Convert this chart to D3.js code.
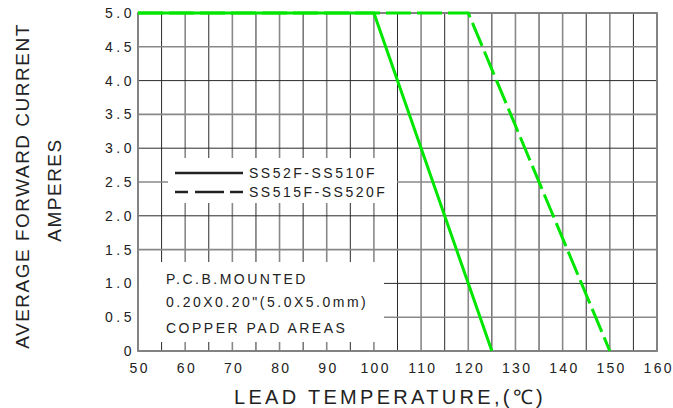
<!DOCTYPE html>
<html><head><meta charset="utf-8">
<script src="https://cdn.jsdelivr.net/npm/d3@7"></script>
<style>body{margin:0;background:#fff}svg{display:block;font-family:"Liberation Sans",Arial,sans-serif}</style>
</head><body><svg id="c" width="673" height="408"></svg>
<script>
// ---- data ----
const xTickValues = [50,60,70,80,90,100,110,120,130,140,150,160];
const yTickValues = [0,0.5,1.0,1.5,2.0,2.5,3.0,3.5,4.0,4.5,5.0];
const yTickLabels = ["0","0.5","1.0","1.5","2.0","2.5","3.0","3.5","4.0","4.5","5.0"];
const xGridValues = [50,55,60,65,70,75,80,85,90,95,100,105,110,115,120,125,130,135,140,145,150,155,160];
const seriesNames = ["SS52F-SS510F","SS515F-SS520F"];
const tempSolid = [50,100,125];
const currSolid = [5,5,0];
const tempDashed = [50,120,150];
const currDashed = [5,5,0];
const noteLines = ["P.C.B.MOUNTED","0.20X0.20\"(5.0X5.0mm)","COPPER PAD AREAS"];

const svg = d3.select("#c");
const L=138,R=657,T=13,B=351;
const x = d3.scaleLinear().domain([50,160]).range([L,R]);
const y = d3.scaleLinear().domain([0,5]).range([B,T]);
const green = "#00e600";

// grid
const g = svg.append("g");
g.selectAll("line.v").data(xGridValues).join("line")
  .attr("x1",d=>x(d)).attr("x2",d=>x(d)).attr("y1",T).attr("y2",B)
  .attr("stroke",(d,i)=>i%2?"#2a2a2a":"#888").attr("stroke-width",(d,i)=>i%2?1:1.6);
g.selectAll("line.h").data(yTickValues).join("line")
  .attr("x1",L).attr("x2",R).attr("y1",d=>y(d)).attr("y2",d=>y(d))
  .attr("stroke",(d,i)=>i%2?"#888":"#2a2a2a").attr("stroke-width",(d,i)=>i%2?1.6:1);

// white boxes (legend and note)
svg.append("rect").attr("x",168).attr("y",158).attr("width",229).attr("height",45).attr("fill","#fff");
svg.append("rect").attr("x",L+1).attr("y",262).attr("width",245).attr("height",80).attr("fill","#fff");

// border
svg.append("rect").attr("x",L).attr("y",T).attr("width",R-L).attr("height",B-T)
  .attr("fill","none").attr("stroke","#808080").attr("stroke-width",1.8);

// curves
const line = d3.line().x(d=>x(d[0])).y(d=>y(d[1]));
svg.append("path").datum(d3.zip(tempSolid,currSolid)).attr("d",line)
  .attr("fill","none").attr("stroke",green).attr("stroke-width",3);
svg.append("path").datum(d3.zip(tempDashed,currDashed)).attr("d",line)
  .attr("fill","none").attr("stroke",green).attr("stroke-width",3).attr("stroke-dasharray","25,6");

// axis labels
const xa = svg.append("g").attr("transform",`translate(0,${B})`)
  .call(d3.axisBottom(x).tickValues(xTickValues).tickSize(0).tickPadding(12).tickFormat(d3.format("d")));
xa.select(".domain").remove();
xa.selectAll("text").attr("font-size",14).attr("fill","#222").attr("letter-spacing","2.3px")
  .attr("dx","1.2px").attr("font-family","Liberation Sans, Arial, sans-serif");

const ya = svg.append("g").attr("transform",`translate(${L},0)`)
  .call(d3.axisLeft(y).tickValues(yTickValues).tickSize(0).tickPadding(3).tickFormat((d,i)=>yTickLabels[i]));
ya.select(".domain").remove();
ya.selectAll("text").attr("font-size",14).attr("fill","#222").attr("letter-spacing","3.5px")
  .attr("font-family","Liberation Sans, Arial, sans-serif");

// titles
svg.append("text").attr("x",390).attr("y",404).attr("text-anchor","middle")
  .attr("font-size",20).attr("letter-spacing","3.3px").attr("fill","#222").text("LEAD TEMPERATURE,(℃)");
svg.append("text").attr("transform","translate(28.5,186) rotate(-90)").attr("text-anchor","middle")
  .attr("font-size",19).attr("letter-spacing","1.5px").attr("fill","#222").text("AVERAGE FORWARD CURRENT");
svg.append("text").attr("transform","translate(61,190) rotate(-90)").attr("text-anchor","middle")
  .attr("font-size",19).attr("letter-spacing","1.5px").attr("fill","#222").text("AMPERES");

// legend
const lg = svg.append("g");
lg.append("line").attr("x1",175).attr("x2",243).attr("y1",173).attr("y2",173).attr("stroke","#222").attr("stroke-width",2.6);
lg.append("line").attr("x1",175).attr("x2",243).attr("y1",192).attr("y2",192).attr("stroke","#222").attr("stroke-width",2.6)
  .attr("stroke-dasharray","13,7,29,6,13");
lg.selectAll("text").data(seriesNames).join("text")
  .attr("x",249).attr("y",(d,i)=>178+i*19).attr("font-size",14).attr("letter-spacing","2.5px").attr("fill","#222").text(d=>d);

// note
svg.selectAll("text.note").data(noteLines).join("text").attr("class","note")
  .attr("x",166).attr("y",(d,i)=>[284,307,333][i]).attr("font-size",14).attr("letter-spacing","2.5px")
  .attr("fill","#222").text(d=>d);
</script></body></html>
